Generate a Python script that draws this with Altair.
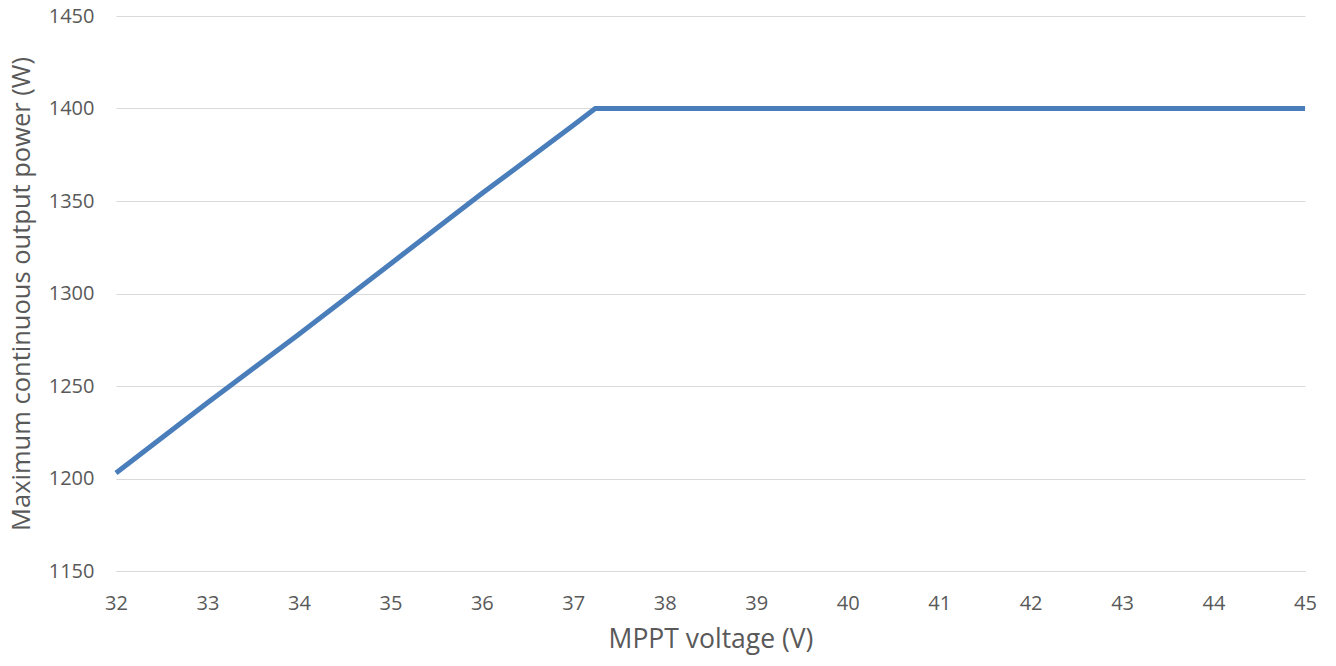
import altair as alt
import pandas as pd

voltage = [32, 33, 34, 35, 36, 37, 37.24, 38, 39, 40, 41, 42, 43, 44, 45]
power = [1203, 1241, 1278, 1316, 1354, 1391, 1400, 1400, 1400, 1400, 1400, 1400, 1400, 1400, 1400]

x_ticks = list(range(32, 46))
y_ticks = [1150, 1200, 1250, 1300, 1350, 1400, 1450]

df = pd.DataFrame({"V": voltage, "P": power})

font = "Open Sans"

chart = alt.Chart(df).mark_line(color="#4A7EBB", strokeWidth=5, strokeCap="butt", strokeJoin="miter").encode(
    x=alt.X("V:Q", scale=alt.Scale(domain=[32, 45], nice=False, zero=False),
            axis=alt.Axis(values=x_ticks, title="MPPT voltage (V)", grid=False, ticks=False,
                          domain=True, domainColor="#D9D9D9", domainWidth=1, format="d",
                          labelFont=font, labelFontSize=20, labelColor="#595959", labelPadding=22,
                          labelFlush=False,
                          titleFont=font, titleFontSize=26.5, titleFontWeight="normal",
                          titleColor="#595959", titlePadding=13)),
    y=alt.Y("P:Q", scale=alt.Scale(domain=[1150, 1450], nice=False, zero=False),
            axis=alt.Axis(values=y_ticks, title="Maximum continuous output power (W)",
                          grid=True, gridColor="#D9D9D9", gridWidth=1, ticks=False, domain=False,
                          format="d", labelFlush=False,
                          labelFont=font, labelFontSize=20, labelColor="#595959", labelPadding=22,
                          titleFont=font, titleFontSize=25.5, titleFontWeight="normal",
                          titleColor="#595959", titlePadding=14)),
).properties(
    width=1189, height=555,
    autosize=alt.AutoSizeParams(type="none"),
    padding={"left": 108, "top": 8, "right": 23, "bottom": 86},
).configure(background="white").configure_view(stroke=None)

chart.save("out.html", embed_options={"renderer": "svg", "actions": False})
